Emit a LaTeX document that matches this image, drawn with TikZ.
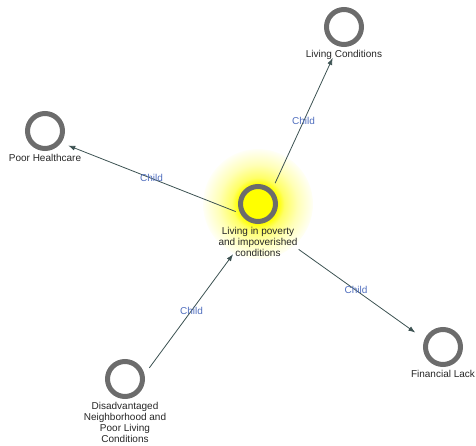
\documentclass[tikz,border=0pt]{standalone}
\usepackage{fontspec}
\setmainfont{Liberation Sans}
\usetikzlibrary{arrows.meta,positioning,fit}
\definecolor{ringgray}{RGB}{108,108,108}
\definecolor{linkcol}{RGB}{60,82,82}
\definecolor{childblue}{RGB}{80,110,190}
\pgfdeclareradialshading{glow}{\pgfpoint{0bp}{0bp}}{color(0bp)=(yellow); color(9bp)=(yellow); color(12bp)=(yellow!60!white); color(18bp)=(yellow!28!white); color(26bp)=(white); color(50bp)=(white)}

\begin{document}
\begin{tikzpicture}[x=1pt, y=-1pt,
		ring/.style={draw=ringgray, line width=5pt, circle,
			minimum size=35pt, inner sep=0pt},
		txt/.style={align=center, inner sep=0pt,
			font=\fontsize{10}{11}\selectfont, text=black!85},
		hull/.style={inner sep=0pt},
		link/.style={draw=linkcol, line width=0.8pt, -{Latex[length=7pt,width=5pt]}},
		rel/.style={font=\fontsize{10}{11}\selectfont, text=childblue, inner sep=0pt}
		]
		\useasboundingbox (0,0) rectangle (476,445);
		% ── Glow behind the selected concept ──
		\shade[shading=glow] (258,204) circle (55pt);
		
		% ── Centre: selected concept ──
		\node[ring] (povR) at (258,204) {};
		\node[txt, below=3pt of povR] (pov) {Living in poverty\\and impoverished\\conditions};
		\node[hull, fit=(povR)(pov)] (povN) {};
		
		% ── Children ──
		\node[ring] (lcR) at (344,27) {};
		\node[txt, below=3pt of lcR] (lc) {Living Conditions};
		\node[hull, fit=(lcR)(lc)] (lcN) {};
		
		\node[ring] (phR) at (45,131) {};
		\node[txt, below=3pt of phR] (ph) {Poor Healthcare};
		\node[hull, fit=(phR)(ph)] (phN) {};
		
		\node[ring] (flR) at (443,347) {};
		\node[txt, below=3pt of flR] (fl) {Financial Lack};
		\node[hull, fit=(flR)(fl)] (flN) {};
		
		% ── Parent ──
		\node[ring] (disR) at (125,379) {};
		\node[txt, below=3pt of disR] (dis) {Disadvantaged\\Neighborhood and\\Poor Living\\Conditions};
		\node[hull, fit=(disR)(dis)] (disN) {};
		
		% Links
		\draw[link, shorten <=41pt, shorten >=27pt] (povN.center) -- node[rel, pos=0.53] {Child} (lcN.center);
		\draw[link, shorten <=24pt, shorten >=25pt] (povN.center) -- node[rel, pos=0.5] {Child} (phN.center);
		\draw[link, shorten <=50pt, shorten >=34pt] (povN.center) -- node[rel, pos=0.53] {Child} (flN.center);
		\draw[link, shorten <=41pt, shorten >=42pt] (disN.center) -- node[rel, pos=0.5] {Child} (povN.center);
	\end{tikzpicture}
\end{document}
